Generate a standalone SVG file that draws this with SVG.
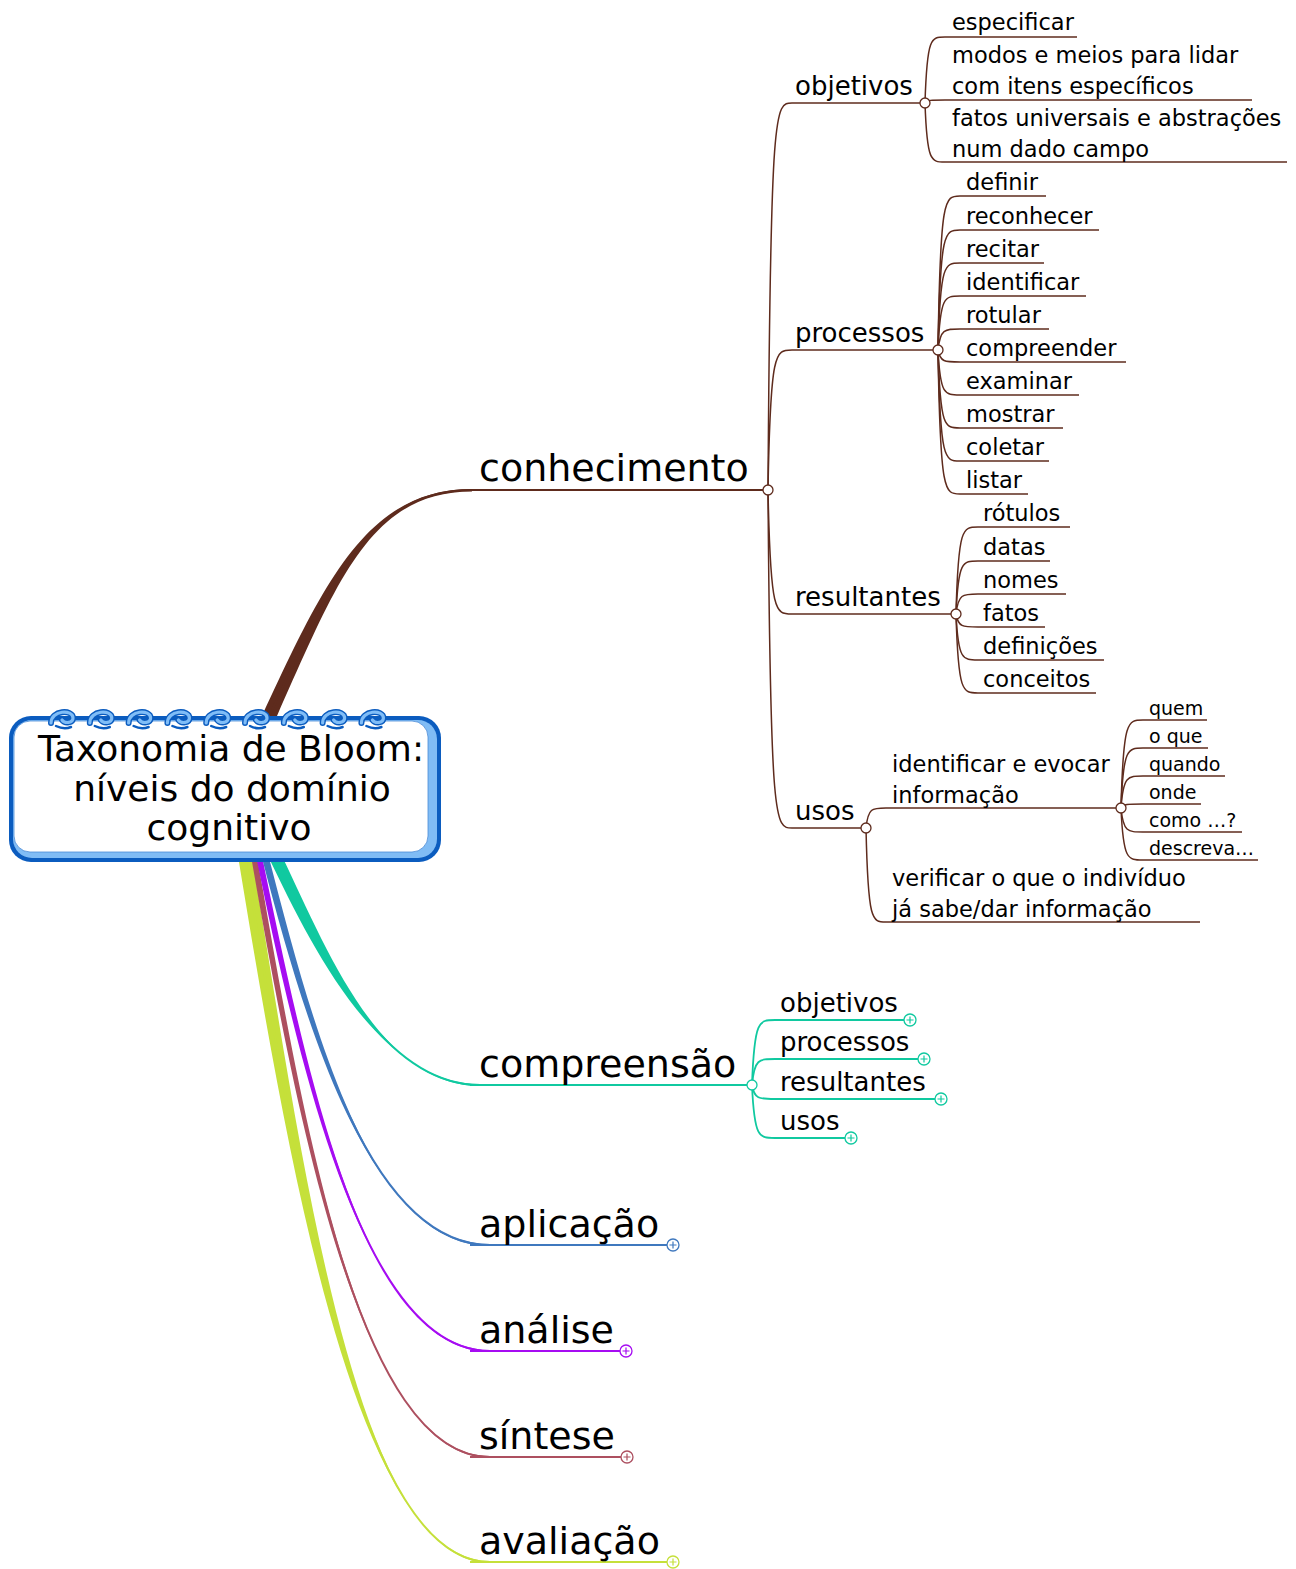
<svg xmlns="http://www.w3.org/2000/svg" xmlns:xlink="http://www.w3.org/1999/xlink" width="1296" height="1569" viewBox="0 0 1296 1569">
  <style>
    text { font-family: "DejaVu Sans", Verdana, "Liberation Sans", sans-serif; fill: #000; }
    .root { font-size: 36px; text-anchor: middle; }
    .l1 { font-size: 38px; }
    .l2 { font-size: 26px; }
    .l3 { font-size: 22.5px; }
    .l4 { font-size: 19px; }
    .brn { stroke: #5e2b1d; fill: none; stroke-width: 1.5; }
    .teal { stroke: #10c9a0; fill: none; stroke-width: 1.8; }
    .ul1 { stroke-width: 2; }
    .dot { fill: #fff; stroke-width: 1.3; }
    .spine { fill: none; stroke-width: 2; }
    .spiral-o { fill: none; stroke: #0b5cbf; stroke-width: 6; stroke-linecap: round; }
    .spiral-i { fill: none; stroke: #80bdf7; stroke-width: 3.2; stroke-linecap: round; }
  </style>
  <defs>
    <!-- collapsed-branch marker: small circle with a plus sign -->
    <g id="plus">
      <circle cx="0" cy="0" r="6" fill="#fff" stroke="currentColor" stroke-width="1.3"/>
      <path d="M-3.5,0 H3.5 M0,-3.5 V3.5" stroke="currentColor" stroke-width="1.2" fill="none"/>
    </g>
    <!-- one ring of the notebook binding on the central topic -->
    <g id="ring">
      <path class="spiral-o" d="M-11,723 C-11,710 11,709 11,718 C11,723 3,724 0,720"/>
      <path class="spiral-i" d="M-11,723 C-11,710 11,709 11,718 C11,723 3,724 0,720"/>
      <path d="M-6,726 Q2,730 9,727" fill="none" stroke="#0b5cbf" stroke-width="2.5" stroke-linecap="round"/>
    </g>
  </defs>

  <rect x="0" y="0" width="1296" height="1569" fill="#fff"/>

  <!-- connectors -->
  <g id="connectors">
    <!-- main branches: tapered ribbon plus a thin spine so the tail keeps its weight -->
    <path fill="#5e2b1d" d="M262,716 C325,580 368,489 472,489 L472,491.5 C370,491.5 337,582 277,716 Z"/>
    <path class="spine" stroke="#5e2b1d" d="M269.5,716 C331,581 369,490 472,490"/>

    <path fill="#c5e03a" d="M238,856 C288,1160 355,1561 490,1561 L490,1563 C355,1563 302,1160 252,856 Z"/>
    <path class="spine" stroke="#c5e03a" d="M245,856 C295,1160 355,1562 490,1562"/>

    <path fill="#ad5060" d="M251,856 C297,1120 360,1456 490,1456 L490,1458 C360,1458 303,1120 257,856 Z"/>
    <path class="spine" stroke="#ad5060" d="M254,856 C300,1120 360,1457 490,1457"/>

    <path fill="#a60cf2" d="M256,856 C302,1080 365,1350 490,1350 L490,1352 C365,1352 308,1080 262,856 Z"/>
    <path class="spine" stroke="#a60cf2" d="M259,856 C305,1080 365,1351 490,1351"/>

    <path fill="#3f78be" d="M261.5,856 C306.5,1030 370,1244 490,1244 L490,1246 C370,1246 313.5,1030 268.5,856 Z"/>
    <path class="spine" stroke="#3f78be" d="M265,856 C310,1030 370,1245 490,1245"/>

    <path fill="#10c9a0" d="M268,856 C313,950 380,1084 480,1084 L480,1086 C380,1086 327,950 282,856 Z"/>
    <path class="spine" stroke="#10c9a0" d="M275,856 C320,950 380,1085 480,1085"/>

    <!-- conhecimento -> subtopics -->
    <path class="brn" d="M768,490 C770.4,103 775.2,103 792,103"/>
    <path class="brn" d="M768,490 C770.4,350 775.2,350 792,350"/>
    <path class="brn" d="M768,490 C770.4,614 775.2,614 792,614"/>
    <path class="brn" d="M768,490 C770.4,828 775.2,828 792,828"/>

    <!-- objetivos -->
    <path class="brn" d="M925,103 C927,37 931,37 945,37"/>
    <path class="brn" d="M925,103 C927,100 931,100 945,100"/>
    <path class="brn" d="M925,103 C927,162 931,162 945,162"/>

    <!-- processos -->
    <path class="brn" d="M938,350 C940.2,196 944.6,196 960,196"/>
    <path class="brn" d="M938,350 C940.2,230 944.6,230 960,230"/>
    <path class="brn" d="M938,350 C940.2,263 944.6,263 960,263"/>
    <path class="brn" d="M938,350 C940.2,296 944.6,296 960,296"/>
    <path class="brn" d="M938,350 C940.2,329 944.6,329 960,329"/>
    <path class="brn" d="M938,350 C940.2,362 944.6,362 960,362"/>
    <path class="brn" d="M938,350 C940.2,395 944.6,395 960,395"/>
    <path class="brn" d="M938,350 C940.2,428 944.6,428 960,428"/>
    <path class="brn" d="M938,350 C940.2,461 944.6,461 960,461"/>
    <path class="brn" d="M938,350 C940.2,494 944.6,494 960,494"/>

    <!-- resultantes -->
    <path class="brn" d="M956,614 C958.2,527 962.6,527 978,527"/>
    <path class="brn" d="M956,614 C958.2,561 962.6,561 978,561"/>
    <path class="brn" d="M956,614 C958.2,594 962.6,594 978,594"/>
    <path class="brn" d="M956,614 C958.2,627 962.6,627 978,627"/>
    <path class="brn" d="M956,614 C958.2,660 962.6,660 978,660"/>
    <path class="brn" d="M956,614 C958.2,693 962.6,693 978,693"/>

    <!-- usos -->
    <path class="brn" d="M866,828 C868,808 872,808 886,808"/>
    <path class="brn" d="M866,828 C868,922 872,922 886,922"/>

    <!-- identificar e evocar informação -->
    <path class="brn" d="M1121,808 C1123.2,720 1127.6,720 1143,720"/>
    <path class="brn" d="M1121,808 C1123.2,748 1127.6,748 1143,748"/>
    <path class="brn" d="M1121,808 C1123.2,776 1127.6,776 1143,776"/>
    <path class="brn" d="M1121,808 C1123.2,804 1127.6,804 1143,804"/>
    <path class="brn" d="M1121,808 C1123.2,832 1127.6,832 1143,832"/>
    <path class="brn" d="M1121,808 C1123.2,860 1127.6,860 1143,860"/>

    <!-- compreensão -> subtopics -->
    <path class="teal" d="M752,1085 C754.3,1020 758.9,1020 775,1020"/>
    <path class="teal" d="M752,1085 C754.3,1059 758.9,1059 775,1059"/>
    <path class="teal" d="M752,1085 C754.3,1099 758.9,1099 775,1099"/>
    <path class="teal" d="M752,1085 C754.3,1138 758.9,1138 775,1138"/>
  </g>

  <!-- central topic -->
  <g id="central">
    <rect x="9" y="716" width="432" height="146" rx="22" fill="#0b5cbf"/>
    <rect x="13" y="720" width="424" height="138" rx="19" fill="#80bcf5"/>
    <rect x="14" y="721" width="414" height="131" rx="16" fill="#fff" stroke="#4a8ad6" stroke-width="0.8"/>
    <use xlink:href="#ring" x="62"/>
    <use xlink:href="#ring" x="100.8"/>
    <use xlink:href="#ring" x="139.6"/>
    <use xlink:href="#ring" x="178.4"/>
    <use xlink:href="#ring" x="217.2"/>
    <use xlink:href="#ring" x="256"/>
    <use xlink:href="#ring" x="294.8"/>
    <use xlink:href="#ring" x="333.6"/>
    <use xlink:href="#ring" x="372.4"/>
    <text class="root" x="231" y="761">Taxonomia de Bloom:</text>
    <text class="root" x="232" y="801">níveis do domínio</text>
    <text class="root" x="229" y="840">cognitivo</text>
  </g>

  <!-- conhecimento branch -->
  <g id="conhecimento">
    <path class="brn ul1" d="M470,490 H763"/>
    <text class="l1" x="479" y="481">conhecimento</text>
    <circle class="dot" cx="768" cy="490" r="5" stroke="#5e2b1d"/>
  </g>

  <g id="objetivos">
    <path class="brn" d="M792,103 H920"/>
    <text class="l2" x="795" y="95">objetivos</text>
    <circle class="dot" cx="925" cy="103" r="5" stroke="#5e2b1d"/>
  </g>
  <g id="obj-especificar">
    <path class="brn" d="M945,37 H1077"/>
    <text class="l3" x="952" y="30">especificar</text>
  </g>
  <g id="obj-modos">
    <path class="brn" d="M945,100 H1252"/>
    <text class="l3" x="952" y="63">modos e meios para lidar</text>
    <text class="l3" x="952" y="94">com itens específicos</text>
  </g>
  <g id="obj-fatos">
    <path class="brn" d="M945,162 H1287"/>
    <text class="l3" x="952" y="126">fatos universais e abstrações</text>
    <text class="l3" x="952" y="157">num dado campo</text>
  </g>

  <g id="processos">
    <path class="brn" d="M792,350 H933"/>
    <text class="l2" x="795" y="342">processos</text>
    <circle class="dot" cx="938" cy="350" r="5" stroke="#5e2b1d"/>
  </g>
  <g id="proc-definir"><path class="brn" d="M960,196 H1046"/><text class="l3" x="966" y="190">definir</text></g>
  <g id="proc-reconhecer"><path class="brn" d="M960,230 H1099"/><text class="l3" x="966" y="224">reconhecer</text></g>
  <g id="proc-recitar"><path class="brn" d="M960,263 H1044"/><text class="l3" x="966" y="257">recitar</text></g>
  <g id="proc-identificar"><path class="brn" d="M960,296 H1086"/><text class="l3" x="966" y="290">identificar</text></g>
  <g id="proc-rotular"><path class="brn" d="M960,329 H1049"/><text class="l3" x="966" y="323">rotular</text></g>
  <g id="proc-compreender"><path class="brn" d="M960,362 H1126"/><text class="l3" x="966" y="356">compreender</text></g>
  <g id="proc-examinar"><path class="brn" d="M960,395 H1079"/><text class="l3" x="966" y="389">examinar</text></g>
  <g id="proc-mostrar"><path class="brn" d="M960,428 H1063"/><text class="l3" x="966" y="422">mostrar</text></g>
  <g id="proc-coletar"><path class="brn" d="M960,461 H1049"/><text class="l3" x="966" y="455">coletar</text></g>
  <g id="proc-listar"><path class="brn" d="M960,494 H1028"/><text class="l3" x="966" y="488">listar</text></g>

  <g id="resultantes">
    <path class="brn" d="M792,614 H951"/>
    <text class="l2" x="795" y="606">resultantes</text>
    <circle class="dot" cx="956" cy="614" r="5" stroke="#5e2b1d"/>
  </g>
  <g id="res-rotulos"><path class="brn" d="M978,527 H1070"/><text class="l3" x="983" y="521">rótulos</text></g>
  <g id="res-datas"><path class="brn" d="M978,561 H1050"/><text class="l3" x="983" y="555">datas</text></g>
  <g id="res-nomes"><path class="brn" d="M978,594 H1066"/><text class="l3" x="983" y="588">nomes</text></g>
  <g id="res-fatos"><path class="brn" d="M978,627 H1045"/><text class="l3" x="983" y="621">fatos</text></g>
  <g id="res-definicoes"><path class="brn" d="M978,660 H1104"/><text class="l3" x="983" y="654">definições</text></g>
  <g id="res-conceitos"><path class="brn" d="M978,693 H1096"/><text class="l3" x="983" y="687">conceitos</text></g>

  <g id="usos">
    <path class="brn" d="M792,828 H861"/>
    <text class="l2" x="795" y="820">usos</text>
    <circle class="dot" cx="866" cy="828" r="5" stroke="#5e2b1d"/>
  </g>
  <g id="usos-identificar">
    <path class="brn" d="M886,808 H1116"/>
    <text class="l3" x="892" y="772">identificar e evocar</text>
    <text class="l3" x="892" y="803">informação</text>
    <circle class="dot" cx="1121" cy="808" r="5" stroke="#5e2b1d"/>
  </g>
  <g id="usos-verificar">
    <path class="brn" d="M886,922 H1200"/>
    <text class="l3" x="892" y="886">verificar o que o indivíduo</text>
    <text class="l3" x="892" y="917">já sabe/dar informação</text>
  </g>
  <g id="q-quem"><path class="brn" d="M1143,720 H1207"/><text class="l4" x="1149" y="715">quem</text></g>
  <g id="q-oque"><path class="brn" d="M1143,748 H1208"/><text class="l4" x="1149" y="743">o que</text></g>
  <g id="q-quando"><path class="brn" d="M1143,776 H1225"/><text class="l4" x="1149" y="771">quando</text></g>
  <g id="q-onde"><path class="brn" d="M1143,804 H1201"/><text class="l4" x="1149" y="799">onde</text></g>
  <g id="q-como"><path class="brn" d="M1143,832 H1242"/><text class="l4" x="1149" y="827">como …?</text></g>
  <g id="q-descreva"><path class="brn" d="M1143,860 H1258"/><text class="l4" x="1149" y="855">descreva…</text></g>

  <!-- compreensão branch -->
  <g id="compreensao">
    <path class="teal" d="M470,1085 H747"/>
    <text class="l1" x="479" y="1077">compreensão</text>
    <circle class="dot" cx="752" cy="1085" r="5" stroke="#10c9a0"/>
  </g>
  <g id="comp-objetivos" color="#10c9a0">
    <path class="teal" d="M775,1020 H904"/>
    <text class="l2" x="780" y="1012">objetivos</text>
    <use xlink:href="#plus" x="910" y="1020"/>
  </g>
  <g id="comp-processos" color="#10c9a0">
    <path class="teal" d="M775,1059 H918"/>
    <text class="l2" x="780" y="1051">processos</text>
    <use xlink:href="#plus" x="924" y="1059"/>
  </g>
  <g id="comp-resultantes" color="#10c9a0">
    <path class="teal" d="M775,1099 H935"/>
    <text class="l2" x="780" y="1091">resultantes</text>
    <use xlink:href="#plus" x="941" y="1099"/>
  </g>
  <g id="comp-usos" color="#10c9a0">
    <path class="teal" d="M775,1138 H845"/>
    <text class="l2" x="780" y="1130">usos</text>
    <use xlink:href="#plus" x="851" y="1138"/>
  </g>

  <!-- collapsed branches -->
  <g id="aplicacao" color="#3f78be">
    <path d="M470,1245 H667" stroke="#3f78be" stroke-width="2" fill="none"/>
    <text class="l1" x="479" y="1237">aplicação</text>
    <use xlink:href="#plus" x="673" y="1245"/>
  </g>
  <g id="analise" color="#a60cf2">
    <path d="M470,1351 H620" stroke="#a60cf2" stroke-width="2" fill="none"/>
    <text class="l1" x="479" y="1343">análise</text>
    <use xlink:href="#plus" x="626" y="1351"/>
  </g>
  <g id="sintese" color="#ad5060">
    <path d="M470,1457 H621" stroke="#ad5060" stroke-width="2" fill="none"/>
    <text class="l1" x="479" y="1449">síntese</text>
    <use xlink:href="#plus" x="627" y="1457"/>
  </g>
  <g id="avaliacao" color="#c5e03a">
    <path d="M470,1562 H667" stroke="#c5e03a" stroke-width="2" fill="none"/>
    <text class="l1" x="479" y="1554">avaliação</text>
    <use xlink:href="#plus" x="673" y="1562"/>
  </g>
</svg>
